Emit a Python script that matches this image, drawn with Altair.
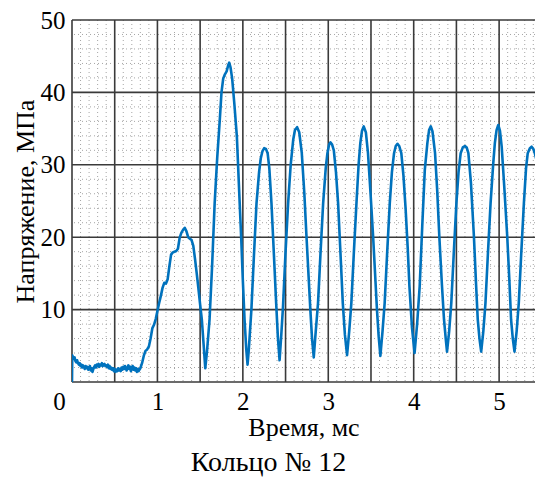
import altair as alt
import pandas as pd

# Time, ms
t_ms = [
    0.0, 0.003, 0.01, 0.02, 0.03, 0.04, 0.05, 0.06, 0.07, 0.08, 0.09,
    0.10, 0.11, 0.12, 0.13, 0.14, 0.15, 0.16, 0.17, 0.18, 0.19,
    0.20, 0.21, 0.22, 0.23, 0.24, 0.25, 0.26, 0.27, 0.28, 0.29,
    0.30, 0.31, 0.32, 0.33, 0.34, 0.35, 0.36, 0.37, 0.38, 0.39,
    0.40, 0.41, 0.42, 0.43, 0.44, 0.45, 0.46, 0.47, 0.48, 0.49,
    0.50, 0.51, 0.52, 0.53, 0.54, 0.55, 0.56, 0.57, 0.58, 0.59,
    0.60, 0.61, 0.62, 0.63, 0.64, 0.65, 0.66, 0.67, 0.68, 0.69,
    0.70, 0.71, 0.72, 0.73, 0.74, 0.75, 0.76, 0.77, 0.78, 0.79, 0.80,
    0.82, 0.84, 0.86, 0.88, 0.90, 0.92, 0.94, 0.96, 0.98, 1.00,
    1.02, 1.04, 1.06, 1.08, 1.10, 1.12, 1.14, 1.16, 1.18, 1.20,
    1.22, 1.24, 1.26, 1.28, 1.30, 1.32, 1.34, 1.36, 1.38, 1.40,
    1.42, 1.44, 1.46, 1.48, 1.50, 1.52, 1.54, 1.56, 1.58, 1.61,
    1.64, 1.67, 1.70, 1.73, 1.75, 1.77, 1.79, 1.81, 1.83, 1.84,
    1.855, 1.875, 1.90, 1.93, 1.96, 1.98, 2.00, 2.02, 2.04, 2.055,
    2.07, 2.10, 2.13, 2.16, 2.19, 2.21, 2.23, 2.25, 2.27, 2.29,
    2.31, 2.335, 2.36, 2.39, 2.41, 2.43, 2.45, 2.47, 2.50, 2.53,
    2.56, 2.59, 2.61, 2.635, 2.66, 2.69, 2.72, 2.745, 2.77, 2.79,
    2.81, 2.83, 2.85, 2.88, 2.91, 2.94, 2.97, 2.99, 3.01, 3.025,
    3.045, 3.065, 3.09, 3.115, 3.14, 3.17, 3.195, 3.22, 3.245, 3.27,
    3.30, 3.33, 3.355, 3.375, 3.395, 3.415, 3.44, 3.465, 3.495, 3.525,
    3.55, 3.57, 3.59, 3.61, 3.635, 3.66, 3.69, 3.72, 3.745, 3.77,
    3.79, 3.81, 3.83, 3.855, 3.88, 3.905, 3.93, 3.95, 3.98, 4.01,
    4.04, 4.07, 4.10, 4.13, 4.16, 4.18, 4.20, 4.22, 4.25, 4.275,
    4.30, 4.33, 4.355, 4.375, 4.39, 4.415, 4.44, 4.47, 4.50, 4.525,
    4.55, 4.575, 4.60, 4.62, 4.64, 4.67, 4.705, 4.73, 4.75, 4.77,
    4.79, 4.815, 4.84, 4.87, 4.90, 4.93, 4.95, 4.97, 4.99, 5.01,
    5.03, 5.06, 5.095, 5.12, 5.14, 5.16, 5.18, 5.205, 5.23, 5.26,
    5.29, 5.315, 5.335, 5.36, 5.38, 5.40, 5.42, 5.44,
]

# Stress, MPa
stress_mpa = [
    0.0, 3.7, 3.5, 3.2, 3.4, 2.9, 2.7, 3.0, 2.6, 2.4, 2.6,
    2.2, 2.4, 2.0, 2.3, 2.1, 1.8, 2.2, 1.9, 2.1, 1.7,
    2.0, 2.2, 1.6, 1.9, 1.4, 1.8, 2.1, 2.3, 2.0, 2.4,
    2.2, 2.5, 2.1, 2.4, 2.3, 2.6, 2.2, 2.4, 2.5, 2.2,
    2.3, 2.1, 2.4, 1.9, 2.2, 1.8, 2.0, 1.7, 1.9, 1.5,
    1.8, 1.4, 1.7, 1.5, 1.9, 1.6, 1.8, 1.5, 2.0, 1.7,
    2.1, 1.8, 2.2, 1.9, 1.6, 2.0, 2.3, 1.8, 2.1, 1.5,
    1.9, 2.2, 1.7, 2.0, 1.6, 1.9, 1.4, 1.8, 1.5, 1.7, 1.9,
    2.6, 3.6, 4.3, 4.5, 4.9, 6.0, 7.4, 7.9, 8.7, 9.8,
    10.9, 11.9, 13.0, 13.7, 13.6, 14.2, 16.0, 17.6, 17.9, 18.0,
    18.1, 18.4, 19.9, 20.6, 21.0, 21.3, 20.8, 20.0, 19.8, 19.6,
    18.8, 17.0, 15.0, 12.9, 10.7, 8.6, 5.3, 1.9, 4.2, 8.6,
    16.0, 24.7, 31.0, 36.2, 40.0, 41.9, 42.5, 42.9, 43.8, 44.1,
    43.5, 41.9, 38.5, 33.9, 25.5, 20.1, 14.0, 8.6, 4.5, 2.4,
    4.5, 10.0, 17.5, 24.7, 29.0, 30.9, 31.9, 32.3, 32.2, 31.6,
    29.5, 24.7, 18.5, 10.9, 6.2, 3.0, 6.5, 10.4, 18.0, 24.7,
    30.0, 33.5, 34.8, 35.2, 34.5, 31.6, 26.0, 20.1, 14.5, 10.0,
    6.0, 3.4, 6.5, 10.9, 18.0, 24.7, 29.5, 31.6, 32.8, 33.1,
    32.8, 32.0, 29.0, 24.7, 18.5, 10.9, 6.5, 3.7, 7.0, 10.9,
    18.0, 24.7, 30.0, 33.0, 34.7, 35.3, 34.5, 31.6, 26.0, 20.1,
    14.5, 10.0, 6.3, 3.6, 7.0, 10.9, 18.0, 24.7, 29.0, 31.6,
    32.6, 32.9, 32.6, 31.6, 28.5, 24.0, 18.5, 13.2, 7.5, 4.0,
    8.0, 13.2, 21.5, 29.3, 33.0, 34.8, 35.3, 34.6, 31.6, 26.5,
    20.1, 13.5, 8.6, 6.0, 4.2, 7.0, 10.9, 18.0, 24.7, 29.0,
    31.6, 32.4, 32.6, 32.4, 31.6, 27.5, 20.1, 13.5, 8.6, 6.0,
    4.2, 7.0, 10.9, 18.0, 24.7, 30.0, 33.0, 34.8, 35.5, 34.7,
    32.5, 27.0, 20.1, 14.0, 8.6, 6.0, 4.2, 7.0, 10.9, 18.0,
    24.7, 29.5, 31.6, 32.3, 32.5, 32.2, 31.5, 30.5,
]

# Axis ticks and grid positions
x_labels = [0, 1, 2, 3, 4, 5]
y_labels = [10, 20, 30, 40, 50]
x_major = [i * 0.5 for i in range(11)]
x_minor = [round(i * 0.1, 1) for i in range(1, 55) if i % 5 != 0]
y_major = [0, 10, 20, 30, 40, 50]
y_minor = [v for v in range(2, 50, 2) if v % 10 != 0]

FONT = "Liberation Serif"
LINE_BLUE = "#0072BD"
GRID_DARK = "#3a3a3a"
GRID_DOT = "#a5a5a5"

xs = alt.Scale(domain=[0, 5.42], nice=False, zero=False)
ys = alt.Scale(domain=[0, 50], nice=False)

signal = pd.DataFrame({"t": t_ms, "s": stress_mpa})

minor_v = alt.Chart(pd.DataFrame({"t": x_minor})).mark_rule(
    color=GRID_DOT, strokeWidth=1, strokeDash=[1, 3]
).encode(x=alt.X("t:Q", scale=xs, axis=None))

minor_h = alt.Chart(pd.DataFrame({"s": y_minor})).mark_rule(
    color=GRID_DOT, strokeWidth=1, strokeDash=[1, 3]
).encode(y=alt.Y("s:Q", scale=ys, axis=None))

major_v = alt.Chart(pd.DataFrame({"t": x_major})).mark_rule(
    color=GRID_DARK, strokeWidth=1.6
).encode(x=alt.X("t:Q", scale=xs, axis=None))

major_h = alt.Chart(pd.DataFrame({"s": y_major})).mark_rule(
    color=GRID_DARK, strokeWidth=1.6
).encode(y=alt.Y("s:Q", scale=ys, axis=None))

line = alt.Chart(signal).mark_line(
    color=LINE_BLUE, strokeWidth=2.6, clip=True, strokeJoin="round"
).encode(
    x=alt.X(
        "t:Q",
        scale=xs,
        axis=alt.Axis(
            title="Время, мс",
            values=x_labels,
            grid=False,
            ticks=False,
            domain=False,
            labelFlush=False,
            labelPadding=7,
            labelOffset={"condition": {"test": "datum.value === 0", "value": -13}, "value": 0},
            titlePadding=0,
        ),
    ),
    y=alt.Y(
        "s:Q",
        scale=ys,
        axis=alt.Axis(
            title="Напряжение, МПа",
            values=y_labels,
            grid=False,
            ticks=False,
            domain=False,
            labelPadding=7,
            titlePadding=2,
        ),
    ),
    order=alt.Order("t:Q"),
)

chart = (
    alt.layer(minor_v, minor_h, major_v, major_h, line)
    .resolve_axis(x="independent", y="independent")
    .properties(
        width=463,
        height=362,
        padding={"left": 72, "top": 20, "right": 0, "bottom": 96},
        autosize=alt.AutoSizeParams(type="none"),
        title=alt.TitleParams(
            "Кольцо № 12",
            orient="bottom",
            anchor="middle",
            font=FONT,
            fontSize=28,
            fontWeight="normal",
            color="black",
            offset=9,
            dx=-35,
        ),
    )
    .configure_view(stroke=None)
    .configure_axis(
        labelFont=FONT,
        labelFontSize=25,
        labelColor="black",
        titleFont=FONT,
        titleFontSize=26,
        titleFontWeight="normal",
        titleColor="black",
    )
)

chart.save("out.html", embed_options={"renderer": "svg", "actions": False})
